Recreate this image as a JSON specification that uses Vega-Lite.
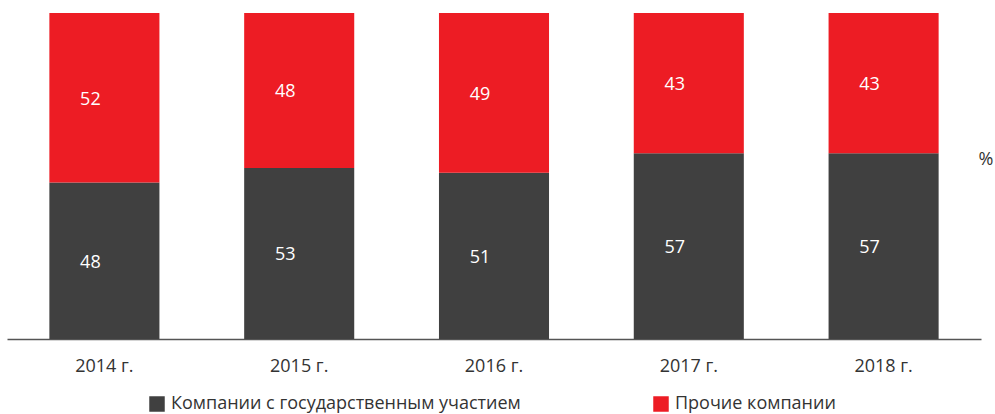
{
  "$schema": "https://vega.github.io/schema/vega-lite/v6.json",
  "autosize": "none",
  "width": 974,
  "height": 326,
  "padding": {"left": 7, "top": 13, "right": 14, "bottom": 75},
  "background": "white",
  "config": {"font": "Open Sans", "view": {"stroke": null}},
  "data": {"values": [
    {"year": "2014 г.", "group": "Компании с государственным участием", "value": 48},
    {"year": "2014 г.", "group": "Прочие компании", "value": 52},
    {"year": "2015 г.", "group": "Компании с государственным участием", "value": 53},
    {"year": "2015 г.", "group": "Прочие компании", "value": 48},
    {"year": "2016 г.", "group": "Компании с государственным участием", "value": 51},
    {"year": "2016 г.", "group": "Прочие компании", "value": 49},
    {"year": "2017 г.", "group": "Компании с государственным участием", "value": 57},
    {"year": "2017 г.", "group": "Прочие компании", "value": 43},
    {"year": "2018 г.", "group": "Компании с государственным участием", "value": 57},
    {"year": "2018 г.", "group": "Прочие компании", "value": 43}
  ]},
  "transform": [
    {"stack": "value", "groupby": ["year"], "sort": [{"field": "group", "order": "ascending"}], "offset": "normalize", "as": ["y0", "y1"]},
    {"calculate": "(datum.y0 + datum.y1) / 2", "as": "ymid"}
  ],
  "encoding": {
    "x": {
      "field": "year", "type": "nominal",
      "scale": {"paddingInner": 0.435, "paddingOuter": 0.2175},
      "axis": {"title": null, "labelAngle": 0, "ticks": false, "labelPadding": 18, "labelFontSize": 18, "labelColor": "#333333", "labelFont": "Open Sans", "domainColor": "#555555", "domainWidth": 1.5}
    }
  },
  "layer": [
    {
      "mark": {"type": "bar"},
      "encoding": {
        "y": {"field": "y0", "type": "quantitative", "scale": {"domain": [0, 1]},
          "axis": {"orient": "right", "title": "%", "titleAngle": 0, "titleX": -3, "titleY": 146, "titleAlign": "left", "titleBaseline": "middle", "titleFontWeight": "normal", "titleFontSize": 18, "titleColor": "#333333", "labels": false, "ticks": false, "domain": false, "grid": false}},
        "y2": {"field": "y1"},
        "color": {"field": "group", "type": "nominal",
          "scale": {"domain": ["Компании с государственным участием", "Прочие компании"], "range": ["#404040", "#ED1C24"]},
          "legend": {"title": null, "orient": "none", "direction": "horizontal", "legendX": 141, "legendY": 382, "symbolType": "square", "symbolSize": 240, "symbolStrokeWidth": 0, "labelFontSize": 18, "labelLimit": 0, "labelColor": "#333333", "columnPadding": 131, "labelOffset": 5}}
      }
    },
    {
      "mark": {"type": "text", "color": "white", "fontSize": 18, "baseline": "middle", "align": "center", "dx": -14, "dy": 2},
      "encoding": {
        "y": {"field": "ymid", "type": "quantitative"},
        "text": {"field": "value", "type": "quantitative"}
      }
    }
  ]
}
